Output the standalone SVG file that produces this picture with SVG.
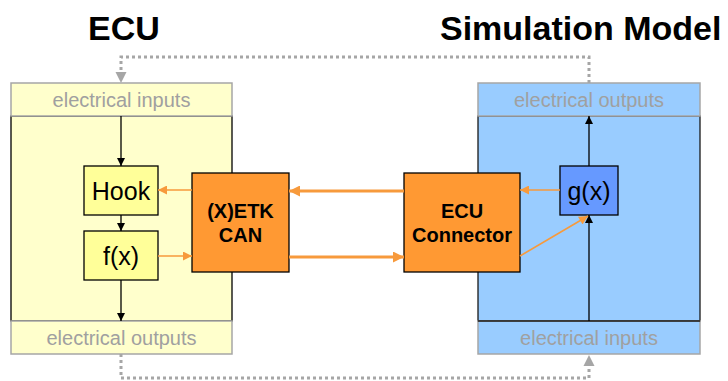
<svg xmlns="http://www.w3.org/2000/svg" width="728" height="381" viewBox="0 0 728 381">
<style>
.t{font-family:"Liberation Sans",Arial,sans-serif}
.title{font-size:34px;font-weight:bold;fill:#000}
.band{font-size:20px;fill:#A0A0A0;text-anchor:middle}
.fn{font-size:25px;fill:#000;text-anchor:middle}
.bl{font-size:20px;font-weight:bold;fill:#000;text-anchor:middle}
.bk{stroke:#000;stroke-width:1.3;fill:none}
.oth{stroke:#F79A3C;stroke-width:1.6;fill:none}
.otk{stroke:#F79A3C;stroke-width:3;fill:none}
.dot{stroke:#A6A6A6;stroke-width:3;stroke-dasharray:3 3;fill:none}
</style>
<defs>
<marker id="ab" viewBox="0 0 10 10" refX="10" refY="5" markerWidth="8" markerHeight="8" markerUnits="userSpaceOnUse" orient="auto"><path d="M0,0L10,5L0,10z" fill="#000"/></marker>
<marker id="ao" viewBox="0 0 10 10" refX="10" refY="5" markerWidth="10" markerHeight="9" markerUnits="userSpaceOnUse" orient="auto"><path d="M0,0L10,5L0,10z" fill="#F79A3C"/></marker>
<marker id="aok" viewBox="0 0 10 10" refX="10" refY="5" markerWidth="13" markerHeight="11" markerUnits="userSpaceOnUse" orient="auto"><path d="M0,0L10,5L0,10z" fill="#F79A3C"/></marker>
<marker id="ag" viewBox="0 0 10 10" refX="10" refY="5" markerWidth="11" markerHeight="12" markerUnits="userSpaceOnUse" orient="auto"><path d="M0,0L10,5L0,10z" fill="#A6A6A6"/></marker>
</defs>
<text class="t title" x="88" y="40">ECU</text>
<text class="t title" x="440" y="40">Simulation Model</text>
<g id="ecu">
<rect x="11" y="116" width="221" height="205" fill="#FFFFCC" stroke="#000" stroke-width="1.3"/>
</g>
<g id="ecu-inputs">
<rect x="11" y="83" width="221" height="33" fill="#FFFFCC" stroke="#A6A6A6" stroke-width="1.5"/>
<text class="t band" x="121.5" y="107">electrical inputs</text>
</g>
<g id="ecu-outputs">
<rect x="11" y="321" width="221" height="33" fill="#FFFFCC" stroke="#A6A6A6" stroke-width="1.5"/>
<text class="t band" x="121.5" y="345">electrical outputs</text>
</g>
<g id="sim">
<rect x="478" y="116" width="222" height="205" fill="#99CCFF" stroke="#1a1a1a" stroke-width="1.3"/>
</g>
<g id="sim-outputs">
<rect x="478" y="83" width="222" height="33" fill="#99CCFF" stroke="#A6A6A6" stroke-width="1.5"/>
<text class="t band" x="589" y="107">electrical outputs</text>
</g>
<g id="sim-inputs">
<rect x="478" y="321" width="222" height="33" fill="#99CCFF" stroke="#A6A6A6" stroke-width="1.5"/>
<line x1="478" y1="321" x2="700" y2="321" stroke="#1a1a1a" stroke-width="1.3"/>
<text class="t band" x="589" y="345">electrical inputs</text>
</g>
<g id="hook">
<rect x="84" y="166" width="74" height="49" fill="#FFFF99" stroke="#000" stroke-width="1.3"/>
<text class="t fn" x="121" y="199.5">Hook</text>
</g>
<g id="fx">
<rect x="84" y="231" width="74" height="49" fill="#FFFF99" stroke="#000" stroke-width="1.3"/>
<text class="t fn" x="121" y="264.5">f(x)</text>
</g>
<g id="gx">
<rect x="560" y="166" width="58" height="49" fill="#6699FF" stroke="#000" stroke-width="1.3"/>
<text class="t fn" x="589" y="199.5">g(x)</text>
</g>
<g id="xetk">
<rect x="192" y="173" width="97" height="99" fill="#FF9933" stroke="#000" stroke-width="1.3"/>
<text class="t bl" x="240.5" y="218">(X)ETK</text>
<text class="t bl" x="240.5" y="242">CAN</text>
</g>
<g id="ecuconn">
<rect x="404" y="173" width="116" height="99" fill="#FF9933" stroke="#000" stroke-width="1.3"/>
<text class="t bl" x="462" y="218">ECU</text>
<text class="t bl" x="462" y="242">Connector</text>
</g>
<g id="connectors">
<line class="bk" x1="121" y1="116" x2="121" y2="166" marker-end="url(#ab)"/>
<line class="bk" x1="121" y1="215" x2="121" y2="231" marker-end="url(#ab)"/>
<line class="bk" x1="121" y1="280" x2="121" y2="321" marker-end="url(#ab)"/>
<line class="bk" x1="589" y1="321" x2="589" y2="215" marker-end="url(#ab)"/>
<line class="bk" x1="589" y1="166" x2="589" y2="116" marker-end="url(#ab)"/>
<line class="oth" x1="192" y1="190" x2="158" y2="190" marker-end="url(#ao)"/>
<line class="oth" x1="158" y1="256" x2="192" y2="256" marker-end="url(#ao)"/>
<line class="oth" x1="560" y1="190" x2="520" y2="190" marker-end="url(#ao)"/>
<line class="oth" x1="520" y1="256" x2="588" y2="216" marker-end="url(#ao)"/>
<line class="otk" x1="404" y1="191" x2="289" y2="191" marker-end="url(#aok)"/>
<line class="otk" x1="289" y1="257" x2="404" y2="257" marker-end="url(#aok)"/>
<polyline class="dot" points="589,83 589,57 121,57 121,73"/>
<path d="M115.5,72L126.5,72L121,83z" fill="#A6A6A6"/>
<polyline class="dot" points="121,354 121,378 589,378 589,366"/>
<path d="M583.5,366L594.5,366L589,355z" fill="#A6A6A6"/>
</g>
</svg>
